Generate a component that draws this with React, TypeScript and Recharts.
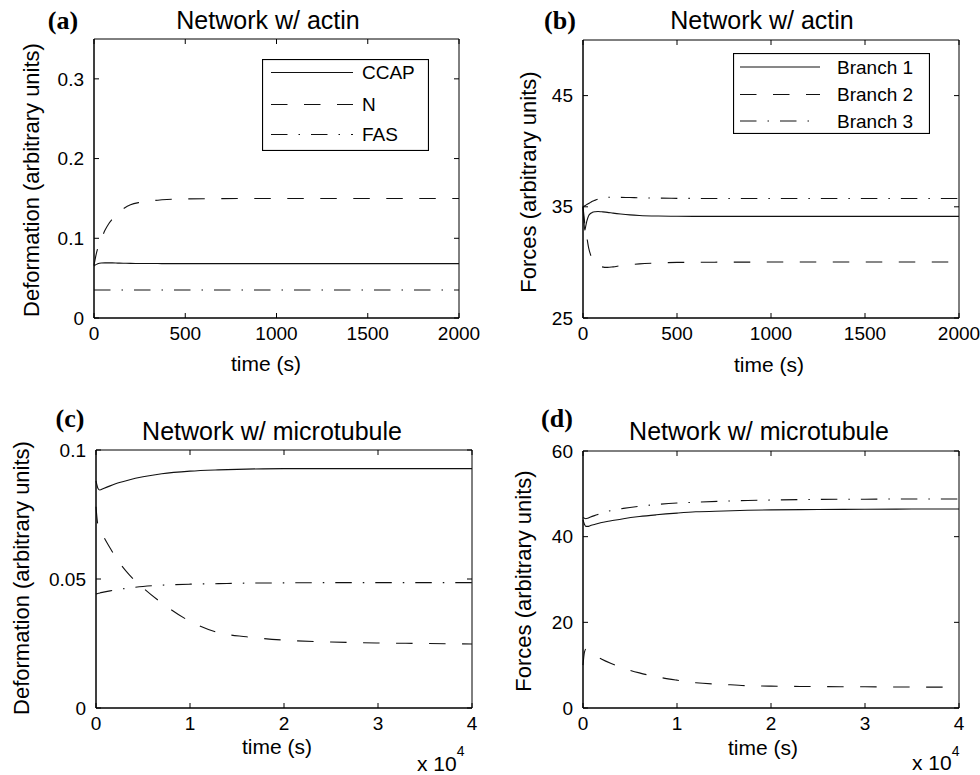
import React from "react"
import { LineChart, Line, XAxis, YAxis, Legend, ReferenceArea } from "recharts"

const FONT = "'Liberation Sans', Arial, Helvetica, sans-serif"
const SERIF = "'Liberation Serif', 'Times New Roman', serif"

const DASH = "16.5 16.5"
const DASHDOT = "16.5 11 1.5 11"

// (a) network w/ actin, deformation
const timeA = [0, 10, 20, 40, 60, 80, 100, 130, 160, 200, 250, 300, 350, 400, 500, 700, 1000, 1500, 2000]
const ccapA = [0.065, 0.067, 0.068, 0.069, 0.0692, 0.0692, 0.0691, 0.0689, 0.0687, 0.0685, 0.0684, 0.0683, 0.0683, 0.0682, 0.0682, 0.0682, 0.0682, 0.0682, 0.0682]
const nA = [0.066, 0.078, 0.087, 0.099, 0.11, 0.118, 0.124, 0.132, 0.137, 0.142, 0.145, 0.1466, 0.1478, 0.1486, 0.1494, 0.1498, 0.15, 0.15, 0.15]
const fasA = [0.0352, 0.0352, 0.0352, 0.0352, 0.0352, 0.0352, 0.0352, 0.0352, 0.0352, 0.0352, 0.0352, 0.0352, 0.0352, 0.0352, 0.0352, 0.0352, 0.0352, 0.0352, 0.0352]

// (b) network w/ actin, forces
const timeB = [0, 5, 10, 15, 20, 30, 40, 50, 65, 80, 100, 130, 160, 200, 250, 300, 400, 500, 700, 1000, 1500, 2000]
const br1B = [35.0, 33.6, 32.9, 33.3, 33.7, 34.2, 34.4, 34.5, 34.56, 34.58, 34.55, 34.5, 34.43, 34.35, 34.27, 34.22, 34.17, 34.15, 34.14, 34.14, 34.14, 34.14]
const br2B = [35.0, 34.2, 33.4, 32.8, 32.3, 31.3, 30.7, 30.3, 30.0, 29.75, 29.6, 29.55, 29.6, 29.7, 29.8, 29.87, 29.95, 30.0, 30.02, 30.03, 30.03, 30.03]
const br3B = [35.0, 35.05, 35.1, 35.15, 35.2, 35.3, 35.4, 35.5, 35.6, 35.7, 35.8, 35.85, 35.86, 35.85, 35.83, 35.81, 35.78, 35.76, 35.75, 35.74, 35.74, 35.74]

// (c) network w/ microtubule, deformation
const timeC = [0, 200, 400, 800, 1500, 2500, 3500, 5000, 7000, 10000, 13000, 16000, 20000, 25000, 30000, 35000, 40000]
const ccapC = [0.088, 0.0852, 0.0845, 0.0851, 0.0861, 0.0874, 0.0884, 0.0896, 0.0908, 0.0918, 0.0923, 0.0926, 0.0928, 0.0928, 0.0928, 0.0928, 0.0928]
const nC = [0.078, 0.071, 0.0695, 0.0665, 0.062, 0.0563, 0.0518, 0.0466, 0.0407, 0.0336, 0.0292, 0.0276, 0.0263, 0.0256, 0.0252, 0.025, 0.0248]
const fasC = [0.0442, 0.0444, 0.0446, 0.0449, 0.0454, 0.046, 0.0465, 0.0471, 0.0476, 0.048, 0.0482, 0.0484, 0.0485, 0.0486, 0.0486, 0.0486, 0.0486]

// (d) network w/ microtubule, forces
const timeD = [0, 150, 300, 500, 800, 1500, 2000, 3000, 4300, 6000, 7800, 10000, 12000, 15000, 17500, 20000, 25000, 30000, 35000, 40000]
const br1D = [43.9, 42.9, 42.4, 42.4, 42.6, 43.0, 43.3, 43.7, 44.2, 44.7, 45.1, 45.5, 45.8, 46.0, 46.15, 46.25, 46.35, 46.4, 46.45, 46.45]
const br2D = [10, 13.0, 13.7, 13.5, 13.2, 12.0, 11.4, 10.4, 9.3, 8.2, 7.3, 6.5, 5.9, 5.5, 5.2, 5.1, 5.0, 4.95, 4.9, 4.85]
const br3D = [44.5, 44.3, 44.2, 44.3, 44.6, 45.1, 45.5, 46.1, 46.6, 47.1, 47.5, 47.85, 48.05, 48.3, 48.45, 48.55, 48.7, 48.75, 48.8, 48.8]

const deformNames = ["CCAP", "N", "FAS"]
const forceNames = ["Branch 1", "Branch 2", "Branch 3"]
const dashes = [undefined, DASH, DASHDOT]

const toRows = (t: number[], s: number[][]) =>
  t.map((v, i) => ({ t: v, s0: s[0][i], s1: s[1][i], s2: s[2][i] }))

// matlab style: ticks point inward, mirrored on the top / right edge
const BottomTick = (p: any) => (
  <g>
    <line x1={p.x} x2={p.x} y1={p.y} y2={p.y - 5} stroke="#000" />
    <line x1={p.x} x2={p.x} y1={p.plotTop} y2={p.plotTop + 5} stroke="#000" />
    <text x={p.x} y={p.y + 22} textAnchor="middle" fontSize={19} fontFamily={FONT} fill="#000">
      {p.fmt(p.payload.value)}
    </text>
  </g>
)
const LeftTick = (p: any) => (
  <g>
    <line x1={p.x} x2={p.x + 5} y1={p.y} y2={p.y} stroke="#000" />
    <line x1={p.plotRight} x2={p.plotRight - 5} y1={p.y} y2={p.y} stroke="#000" />
    <text x={p.x - 10} y={p.y} dy="0.35em" textAnchor="end" fontSize={19} fontFamily={FONT} fill="#000">
      {String(p.payload.value)}
    </text>
  </g>
)

type Box = { left: number; top: number; w: number; h: number; rows: number[]; x1: number; x2: number; tx: number }

const legendContent = (names: string[], b: Box) => () => (
  <svg width={b.w} height={b.h} style={{ display: "block" }}>
    <rect x={0.5} y={0.5} width={b.w - 1} height={b.h - 1} fill="#fff" stroke="#000" strokeWidth={1.2} />
    {names.map((n, i) => (
      <g key={n}>
        <line x1={b.x1} x2={b.x2} y1={b.rows[i]} y2={b.rows[i]} stroke="#111" strokeDasharray={dashes[i]} />
        <text x={b.tx} y={b.rows[i]} dy="0.35em" fontSize={19} fontFamily={FONT} fill="#000">{n}</text>
      </g>
    ))}
  </svg>
)

type PanelProps = {
  left: number; top: number; width: number; height: number
  margin: { top: number; right: number; bottom: number; left: number }
  data: any[]; names: string[]
  xDomain: number[]; xTicks: number[]; xFmt: (v: number) => string
  yDomain: number[]; yTicks: number[]
  legend?: Box
}

function Panel(p: PanelProps) {
  const plotTop = p.margin.top
  const plotRight = p.width - p.margin.right
  return (
    <div style={{ position: "absolute", left: p.left, top: p.top }}>
      <LineChart width={p.width} height={p.height} data={p.data} margin={p.margin}>
        <XAxis dataKey="t" type="number" domain={p.xDomain} ticks={p.xTicks} interval={0}
          height={30} tickSize={0} tickMargin={0} stroke="#000"
          tick={(t: any) => <BottomTick {...t} fmt={p.xFmt} plotTop={plotTop} />} />
        <YAxis type="number" domain={p.yDomain} ticks={p.yTicks} interval={0} width={50}
          tickSize={0} tickMargin={0} stroke="#000"
          tick={(t: any) => <LeftTick {...t} plotRight={plotRight} />} />
        <ReferenceArea x1={p.xDomain[0]} x2={p.xDomain[1]} y1={p.yDomain[0]} y2={p.yDomain[1]}
          fill="none" fillOpacity={0} stroke="#000" strokeOpacity={1} strokeWidth={1} />
        {p.names.map((n, i) => (
          <Line key={n} name={n} dataKey={"s" + i} type="monotone" stroke="#111" strokeWidth={1.1}
            strokeDasharray={dashes[i]} dot={false} isAnimationActive={false} />
        ))}
        {p.legend && (
          <Legend layout="vertical" align="center" verticalAlign="middle"
            content={legendContent(p.names, p.legend)}
            wrapperStyle={{ left: p.legend.left, top: p.legend.top, width: p.legend.w, height: p.legend.h }} />
        )}
      </LineChart>
    </div>
  )
}

const secFmt = (v: number) => String(v)
const e4Fmt = (v: number) => String(v / 10000)

const txt = { fontFamily: FONT, fill: "#000" }

export default function App() {
  return (
    <div style={{ position: "absolute", left: 0, top: 0, width: 980, height: 775, background: "#fff" }}>
      <Panel left={0} top={0} width={490} height={390}
        margin={{ top: 39, right: 31, bottom: 42, left: 44 }}
        data={toRows(timeA, [ccapA, nA, fasA])} names={deformNames}
        xDomain={[0, 2000]} xTicks={[0, 500, 1000, 1500, 2000]} xFmt={secFmt}
        yDomain={[0, 0.35]} yTicks={[0, 0.1, 0.2, 0.3]}
        legend={{ left: 262, top: 59, w: 167, h: 92, rows: [13.5, 45.5, 75.5], x1: 9, x2: 91, tx: 100 }} />
      <Panel left={490} top={0} width={490} height={390}
        margin={{ top: 40, right: 21, bottom: 42, left: 43 }}
        data={toRows(timeB, [br1B, br2B, br3B])} names={forceNames}
        xDomain={[0, 2000]} xTicks={[0, 500, 1000, 1500, 2000]} xFmt={secFmt}
        yDomain={[25, 50]} yTicks={[25, 35, 45]}
        legend={{ left: 243, top: 53, w: 197, h: 81, rows: [14, 41.5, 68], x1: 7, x2: 87, tx: 104 }} />
      <Panel left={0} top={390} width={490} height={385}
        margin={{ top: 60, right: 18, bottom: 37, left: 46 }}
        data={toRows(timeC, [ccapC, nC, fasC])} names={deformNames}
        xDomain={[0, 40000]} xTicks={[0, 10000, 20000, 30000, 40000]} xFmt={e4Fmt}
        yDomain={[0, 0.1]} yTicks={[0, 0.05, 0.1]} />
      <Panel left={490} top={390} width={490} height={385}
        margin={{ top: 61, right: 21, bottom: 37, left: 43 }}
        data={toRows(timeD, [br1D, br2D, br3D])} names={forceNames}
        xDomain={[0, 40000]} xTicks={[0, 10000, 20000, 30000, 40000]} xFmt={e4Fmt}
        yDomain={[0, 60]} yTicks={[0, 20, 40, 60]} />

      <svg width={980} height={775} style={{ position: "absolute", left: 0, top: 0, pointerEvents: "none" }}>
        <g fontFamily={SERIF} fontWeight="bold" fontSize={26} fill="#000" textAnchor="middle">
          <text x={63} y={29}>(a)</text>
          <text x={560} y={29}>(b)</text>
          <text x={70} y={427}>(c)</text>
          <text x={557} y={427}>(d)</text>
        </g>
        <g {...txt} fontSize={25} textAnchor="middle">
          <text x={268} y={29}>Network w/ actin</text>
          <text x={762} y={29}>Network w/ actin</text>
          <text x={272} y={440}>Network w/ microtubule</text>
          <text x={759} y={440}>Network w/ microtubule</text>
        </g>
        <g {...txt} fontSize={21} textAnchor="middle">
          <text x={266} y={371}>time (s)</text>
          <text x={769} y={372}>time (s)</text>
          <text x={277} y={754}>time (s)</text>
          <text x={763} y={755}>time (s)</text>
        </g>
        <g {...txt} fontSize={22} textAnchor="middle">
          <text transform="translate(39,180) rotate(-90)">Deformation (arbitrary units)</text>
          <text transform="translate(536,182) rotate(-90)">Forces (arbitrary units)</text>
          <text transform="translate(29,578) rotate(-90)">Deformation (arbitrary units)</text>
          <text transform="translate(531,581) rotate(-90)">Forces (arbitrary units)</text>
        </g>
        <g {...txt} fontSize={21}>
          <text x={417} y={771}>x 10<tspan dy={-15} fontSize={14}>4</tspan></text>
          <text x={912} y={770}>x 10<tspan dy={-14} fontSize={14}>4</tspan></text>
        </g>
      </svg>
    </div>
  )
}
